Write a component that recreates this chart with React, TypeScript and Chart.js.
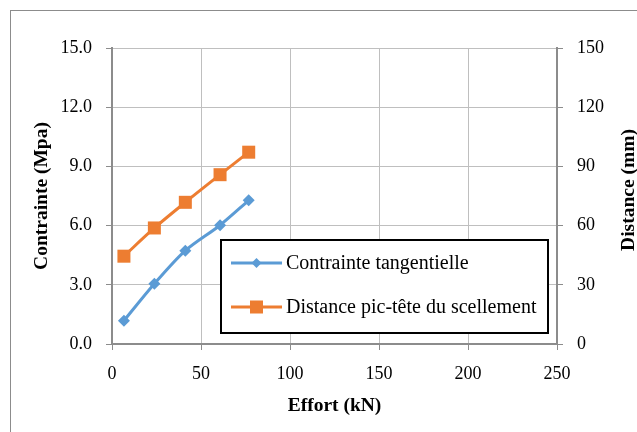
import React, { useEffect, useRef } from "react";
import { Chart, registerables } from "chart.js";

Chart.register(...registerables);

const effort = [6.7, 23.8, 41.2, 60.7, 76.8];
const contrainte = [1.18, 3.05, 4.73, 6.02, 7.28];
const distance = [44.5, 58.8, 71.8, 85.8, 97.2];
const leftTicks = [0, 3, 6, 9, 12, 15];
const rightTicks = [0, 30, 60, 90, 120, 150];
const xTicks = [0, 50, 100, 150, 200, 250];
const rightTitle = "Distance (mm)";

const FONT = "'Liberation Serif', 'Times New Roman', serif";
const BLUE = "#5B9BD5";
const ORANGE = "#ED7D31";
const GRID = "#BFBFBF";
const AXIS = "#8C8C8C";

const frame = {
  id: "frame",
  beforeDraw(chart: any) {
    const ctx = chart.ctx;
    ctx.save();
    ctx.fillStyle = "#fff";
    ctx.fillRect(0, 0, chart.width, chart.height);
    ctx.strokeStyle = "#8C8C8C";
    ctx.lineWidth = 1;
    ctx.strokeRect(10.5, 10.5, 800, 600);
    ctx.restore();
  },
  afterDraw(chart: any) {
    const ctx = chart.ctx;
    ctx.save();
    ctx.translate(629, 190);
    ctx.rotate(-Math.PI / 2);
    ctx.fillStyle = "#000";
    ctx.font = `bold 19.5px ${FONT}`;
    ctx.textAlign = "center";
    ctx.textBaseline = "middle";
    ctx.fillText(rightTitle, 0, 0);
    ctx.restore();
  },
};

const boxLegend = {
  id: "boxLegend",
  afterDraw(chart: any) {
    const ctx = chart.ctx;
    const x0 = 221, y0 = 240, w = 327, h = 93;
    ctx.save();
    ctx.fillStyle = "#fff";
    ctx.fillRect(x0, y0, w, h);
    ctx.strokeStyle = "#000";
    ctx.lineWidth = 2;
    ctx.strokeRect(x0, y0, w, h);
    const rows = [263, 307];
    chart.data.datasets.forEach((ds: any, i: number) => {
      const y = rows[i];
      ctx.strokeStyle = ds.borderColor;
      ctx.lineWidth = 3;
      ctx.beginPath();
      ctx.moveTo(231, y);
      ctx.lineTo(282, y);
      ctx.stroke();
      ctx.fillStyle = ds.borderColor;
      ctx.beginPath();
      if (ds.pointStyle === "rectRot") {
        const r = 5;
        ctx.moveTo(256.5, y - r);
        ctx.lineTo(256.5 + r, y);
        ctx.lineTo(256.5, y + r);
        ctx.lineTo(256.5 - r, y);
        ctx.closePath();
      } else {
        ctx.rect(250, y - 6.5, 13, 13);
      }
      ctx.fill();
      ctx.fillStyle = "#000";
      ctx.font = `20px ${FONT}`;
      ctx.textBaseline = "middle";
      ctx.textAlign = "left";
      ctx.fillText(ds.label, 286, y + 1);
    });
    ctx.restore();
  },
};

export default function App() {
  const ref = useRef<HTMLCanvasElement>(null);
  useEffect(() => {
    if (!ref.current) return;
    const chart = new Chart(ref.current, {
      type: "line",
      data: {
        datasets: [
          {
            label: "Contrainte tangentielle",
            data: effort.map((x, i) => ({ x, y: contrainte[i] })),
            yAxisID: "y",
            borderColor: BLUE,
            backgroundColor: BLUE,
            borderWidth: 3,
            pointStyle: "rectRot",
            pointRadius: 6,
            pointBorderWidth: 0,
            tension: 0.3,
          },
          {
            label: "Distance pic-tête du scellement",
            data: effort.map((x, i) => ({ x, y: distance[i] })),
            yAxisID: "y2",
            borderColor: ORANGE,
            backgroundColor: ORANGE,
            borderWidth: 3,
            pointStyle: "rect",
            pointRadius: 9.2,
            pointBorderWidth: 0,
            tension: 0.3,
          },
        ],
      },
      options: {
        animation: false,
        responsive: false,
        layout: { padding: { top: 48, left: 0, right: 0, bottom: 0 } },
        plugins: { legend: { display: false }, tooltip: { enabled: false } },
        scales: {
          x: {
            type: "linear",
            min: 0,
            max: 250,
            afterBuildTicks: (s: any) => {
              s.ticks = xTicks.map((v) => ({ value: v }));
            },
            afterFit: (s: any) => {
              s.height = 88;
            },
            grid: { color: GRID, lineWidth: 1, tickLength: 6, tickColor: AXIS },
            border: { color: AXIS, width: 2 },
            ticks: {
              color: "#000",
              font: { family: FONT, size: 18 },
              padding: 13,
              maxRotation: 0,
            },
            title: {
              display: true,
              text: "Effort (kN)",
              color: "#000",
              font: { family: FONT, size: 19.5, weight: "bold" },
              padding: { top: 0, bottom: 14 },
            },
          },
          y: {
            position: "left",
            min: 0,
            max: 15,
            afterBuildTicks: (s: any) => {
              s.ticks = leftTicks.map((v) => ({ value: v }));
            },
            afterFit: (s: any) => {
              s.width = 112;
            },
            grid: { color: GRID, lineWidth: 1, tickLength: 6, tickColor: AXIS },
            border: { color: AXIS, width: 2 },
            ticks: {
              color: "#000",
              font: { family: FONT, size: 18 },
              padding: 14,
              callback: (v: any) => Number(v).toFixed(1),
            },
            title: {
              display: true,
              text: "Contrainte (Mpa)",
              color: "#000",
              font: { family: FONT, size: 19.5, weight: "bold" },
              padding: { top: 30, bottom: 0 },
            },
          },
          y2: {
            position: "right",
            min: 0,
            max: 150,
            afterBuildTicks: (s: any) => {
              s.ticks = rightTicks.map((v) => ({ value: v }));
            },
            afterFit: (s: any) => {
              s.width = 80;
            },
            grid: { drawOnChartArea: false, tickLength: 6, color: AXIS },
            border: { color: AXIS, width: 2 },
            ticks: {
              color: "#000",
              font: { family: FONT, size: 18 },
              padding: 14,
            },
            title: { display: false },
          },
        },
      },
      plugins: [frame, boxLegend],
    } as any);
    return () => chart.destroy();
  }, []);
  return (
    <div style={{ position: "fixed", left: 0, top: 0, width: 637, height: 432 }}>
      <canvas ref={ref} width={637} height={432} style={{ width: 637, height: 432 }} />
    </div>
  );
}
